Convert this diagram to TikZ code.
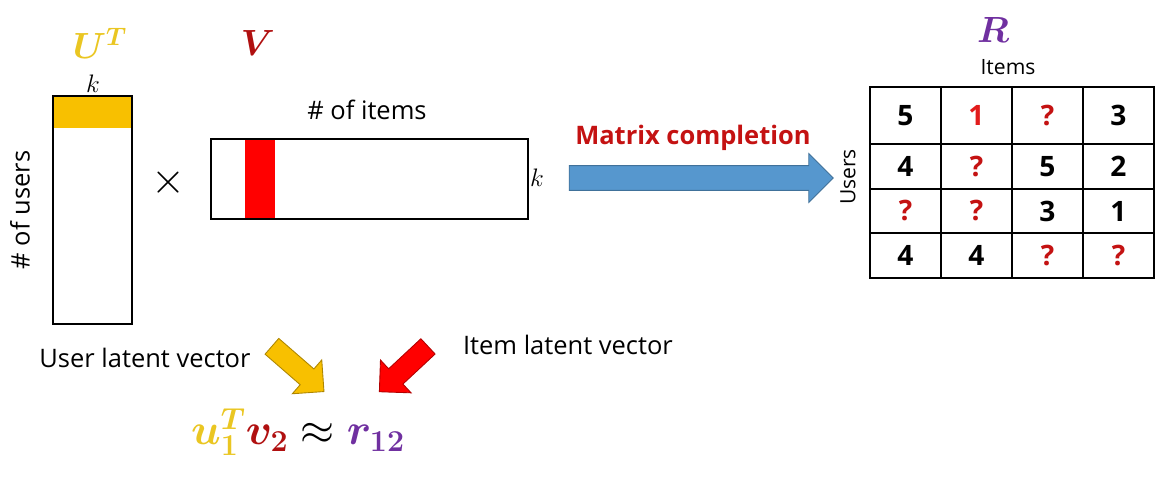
\documentclass[tikz,border=0pt]{standalone}
\usepackage{amssymb}
\usepackage{amsmath}
\usepackage{bm}
\usepackage{fontspec}
\setmainfont{Open Sans}
\usepackage{tikz}
\usetikzlibrary{shapes.arrows}

\definecolor{ugold}{RGB}{234,198,34}
\definecolor{band}{RGB}{248,192,0}
\definecolor{vred}{RGB}{176,16,16}
\definecolor{qred}{RGB}{196,18,18}
\definecolor{onered}{RGB}{226,28,28}
\definecolor{rpurple}{RGB}{112,48,160}
\definecolor{arrblue}{RGB}{86,151,206}

\begin{document}
\begin{tikzpicture}[x=0.02cm,y=-0.02cm]
	\tikzstyle{every node}+=[inner sep=0pt]
	\tikzstyle{lbl}=[font=\fontsize{14.5}{16}\selectfont]
	\tikzstyle{small}=[font=\fontsize{12}{14}\selectfont]
	\tikzstyle{big}=[font=\fontsize{20}{22}\selectfont]
	\tikzstyle{mat}=[draw, line width=0.9pt]
	\tikzstyle{cell}=[draw, line width=0.9pt, minimum width=1.42cm, font=\fontsize{16}{18}\selectfont\bfseries]
	\tikzstyle{fat}=[single arrow, line width=0.5pt, inner ysep=0.2cm, single arrow head extend=0.24cm]
	\useasboundingbox (0,0) rectangle (1164,480);
	% left side: U^T times V
	\fill [band] (53,96) rectangle (132,128);
	\node [mat, minimum width=1.58cm, minimum height=4.56cm] (umat) at (92.5,210) {};
	\fill [red] (245,139) rectangle (275,219);
	\node [mat, minimum width=6.34cm, minimum height=1.6cm] (vmat) at (369.5,179) {};
	\node [big, text=ugold] (ulbl) at (100,43) {$\bm{U^{T}}$};
	\node [big, text=vred] (vlbl) at (258,43) {$\bm{V}$};
	\node [lbl] (ku) at (93,84) {$k$};
	\node [lbl, rotate=90] (nusers) at (20,210) {\# of users};
	\node [font=\fontsize{24}{24}\selectfont] (times) at (168,183) {$\times$};
	\node [lbl] (nitems) at (367,110) {\# of items};
	\node [lbl] (kv) at (537,178) {$k$};
	% completion arrow
	\node [fat, fill=arrblue, draw=arrblue!75!black, minimum height=5.28cm, inner ysep=0.24cm] (compl) at (695,178) {};
	\node [font=\fontsize{14.5}{16}\selectfont\bfseries, text=qred] (mc) at (693,138) {Matrix completion};
	% R
	\node [big, text=rpurple] (rlbl) at (993,30) {$\bm{R}$};
	\node [small] (ritems) at (1008,67) {Items};
	\node [small, rotate=90] (rusers) at (848,177) {Users};
	\foreach \c/\x/\t/\col in {1/905.5/5/black, 2/976.5/1/onered, 3/1047.5/?/qred, 4/1118.5/3/black}
		\node [cell, minimum height=1.14cm, text=\col] (c1\c) at (\x,115.5) {\t};
	\foreach \c/\x/\t/\col in {1/905.5/4/black, 2/976.5/?/qred, 3/1047.5/5/black, 4/1118.5/2/black}
		\node [cell, minimum height=0.9cm, text=\col] (c2\c) at (\x,166.5) {\t};
	\foreach \c/\x/\t/\col in {1/905.5/?/qred, 2/976.5/?/qred, 3/1047.5/3/black, 4/1118.5/1/black}
		\node [cell, minimum height=0.88cm, text=\col] (c3\c) at (\x,211) {\t};
	\foreach \c/\x/\t/\col in {1/905.5/4/black, 2/976.5/4/black, 3/1047.5/?/qred, 4/1118.5/?/qred}
		\node [cell, minimum height=0.9cm, text=\col] (c4\c) at (\x,255.5) {\t};
	% bottom: latent vectors
	\node [lbl] (ulv) at (145,358) {User latent vector};
	\node [lbl] (ilv) at (568,345) {Item latent vector};
	\node [fat, fill=band, draw=band!70!black, minimum height=1.38cm, rotate=-41] (uarr) at (294,365.5) {};
	\node [fat, fill=red, draw=red!70!black, minimum height=1.33cm, rotate=-137] (varr) at (407.5,365.5) {};
	\node [font=\fontsize{24}{26}\selectfont] (eq) at (298,432)
		{$\color{ugold}\bm{u}_{\bm{1}}^{\bm{T}}\color{vred}\bm{v}_{\bm{2}}\color{black}\approx\color{rpurple}\bm{r}_{\bm{12}}$};
\end{tikzpicture}
\end{document}
